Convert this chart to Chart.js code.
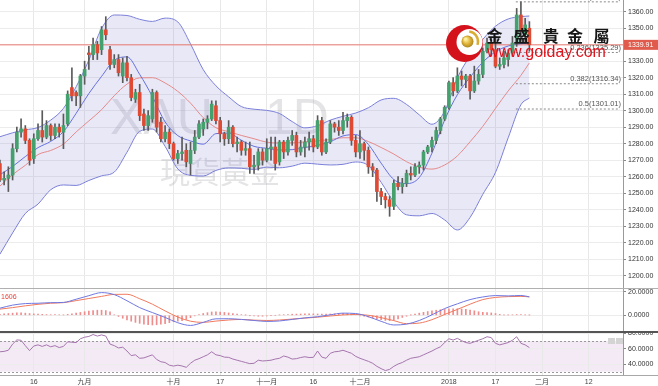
<!DOCTYPE html>
<html lang="zh-Hant">
<head>
<meta charset="utf-8">
<title>XAU 1D 現貨黃金</title>
<script src="https://cdn.jsdelivr.net/npm/chart.js@4.4.1/dist/chart.umd.min.js"></script>
<style>
html,body{margin:0;padding:0;background:#fff;overflow:hidden}
#wrap{position:relative;width:658px;height:386px;background:#fff}
#wrap canvas{position:absolute;left:0;display:block}
</style>
</head>
<body>
<div id="wrap">
  <canvas id="mainChart" width="658" height="288" style="top:0;width:658px;height:288px"></canvas>
  <canvas id="macdChart" width="658" height="43" style="top:288px;width:658px;height:43px"></canvas>
  <canvas id="rsiChart" width="658" height="55" style="top:331px;width:658px;height:55px"></canvas>
</div>
<script>
// ---------------- data ----------------
const categories = ['2017-08-04','2017-08-07','2017-08-08','2017-08-09','2017-08-10','2017-08-11','2017-08-14','2017-08-15','2017-08-16','2017-08-17','2017-08-18','2017-08-21','2017-08-22','2017-08-23','2017-08-24','2017-08-25','2017-08-28','2017-08-29','2017-08-30','2017-08-31','2017-09-01','2017-09-04','2017-09-05','2017-09-06','2017-09-07','2017-09-08','2017-09-11','2017-09-12','2017-09-13','2017-09-14','2017-09-15','2017-09-18','2017-09-19','2017-09-20','2017-09-21','2017-09-22','2017-09-25','2017-09-26','2017-09-27','2017-09-28','2017-09-29','2017-10-02','2017-10-03','2017-10-04','2017-10-05','2017-10-06','2017-10-09','2017-10-10','2017-10-11','2017-10-12','2017-10-13','2017-10-16','2017-10-17','2017-10-18','2017-10-19','2017-10-20','2017-10-23','2017-10-24','2017-10-25','2017-10-26','2017-10-27','2017-10-30','2017-10-31','2017-11-01','2017-11-02','2017-11-03','2017-11-06','2017-11-07','2017-11-08','2017-11-09','2017-11-10','2017-11-13','2017-11-14','2017-11-15','2017-11-16','2017-11-17','2017-11-20','2017-11-21','2017-11-22','2017-11-23','2017-11-24','2017-11-27','2017-11-28','2017-11-29','2017-11-30','2017-12-01','2017-12-04','2017-12-05','2017-12-06','2017-12-07','2017-12-08','2017-12-11','2017-12-12','2017-12-13','2017-12-14','2017-12-15','2017-12-18','2017-12-19','2017-12-20','2017-12-21','2017-12-22','2017-12-25','2017-12-26','2017-12-27','2017-12-28','2017-12-29','2018-01-02','2018-01-03','2018-01-04','2018-01-05','2018-01-08','2018-01-09','2018-01-10','2018-01-11','2018-01-12','2018-01-15','2018-01-16','2018-01-17','2018-01-18','2018-01-19','2018-01-22','2018-01-23','2018-01-24','2018-01-25','2018-01-26','2018-01-29'];

const openP = [1268,1258,1259,1261,1277,1287,1289,1282,1271,1283,
 1288,1284,1291,1285,1290,1287,1292,1314,1311,1309,
 1321,1335,1334,1340,1337,1349,1337,1328,1331,1321,
 1329,1320,1307,1311,1298,1291,1295,1311,1293,1283,
 1287,1280,1271,1274,1276,1268,1276,1284,1289,1293,
 1295,1303,1294,1286,1283,1290,1280,1281,1276,1277,
 1266,1267,1275,1270,1277,1278,1269,1281,1275,1282,
 1285,1275,1278,1281,1283,1278,1294,1275,1281,1292,
 1290,1288,1294,1296,1282,1275,1280,1276,1266,1264,
 1251,1248,1246,1242,1256,1254,1256,1262,1261,1266,
 1267,1275,1278,1282,1288,1295,1302,1317,1312,1321,
 1319,1321,1312,1318,1322,1336,1341,1337,1327,1328,
 1331,1335,1341,1358,1346,1350];
const highP = [1270,1263,1266,1280,1290,1295,1291,1283,1286,1292,
 1300,1294,1292,1292,1292,1298,1312,1326,1312,1322,
 1330,1339,1344,1342,1351,1357,1339,1334,1334,1332,
 1333,1322,1313,1316,1301,1300,1313,1312,1296,1291,
 1289,1281,1276,1284,1280,1281,1288,1294,1295,1297,
 1306,1306,1296,1287,1294,1291,1284,1282,1281,1281,
 1273,1277,1277,1283,1284,1284,1282,1282,1284,1288,
 1287,1282,1284,1287,1285,1297,1296,1283,1294,1293,
 1294,1299,1298,1297,1285,1288,1281,1278,1268,1265,
 1253,1250,1248,1258,1260,1259,1264,1266,1268,1269,
 1276,1279,1284,1290,1296,1303,1318,1320,1326,1324,
 1322,1322,1327,1325,1338,1344,1344,1345,1332,1336,
 1337,1345,1362,1366,1356,1354];
const lowP = [1257,1255,1251,1258,1275,1284,1280,1267,1268,1282,
 1281,1283,1282,1283,1284,1277,1291,1306,1303,1302,
 1316,1325,1331,1331,1334,1343,1325,1326,1321,1317,
 1318,1306,1305,1294,1288,1288,1293,1287,1281,1281,
 1277,1270,1268,1270,1266,1261,1274,1283,1285,1289,
 1294,1292,1281,1279,1280,1278,1275,1273,1273,1262,
 1262,1264,1267,1269,1270,1264,1267,1271,1273,1279,
 1272,1273,1272,1276,1275,1277,1273,1274,1280,1287,
 1285,1286,1290,1279,1272,1271,1270,1262,1260,1245,
 1243,1241,1236,1240,1252,1250,1254,1258,1260,1262,
 1264,1274,1275,1280,1286,1294,1301,1309,1311,1315,
 1314,1307,1311,1316,1320,1335,1333,1326,1325,1326,
 1327,1333,1339,1342,1341,1336];
const closeP = [1258,1259,1261,1277,1287,1289,1282,1270,1283,1288,
 1284,1291,1285,1290,1287,1291,1310,1309,1309,1321,
 1325,1334,1340,1335,1349,1346,1328,1331,1323,1329,
 1320,1308,1311,1297,1291,1297,1311,1290,1283,1287,
 1280,1271,1274,1275,1269,1276,1284,1292,1293,1295,
 1304,1294,1286,1283,1290,1280,1281,1276,1277,1266,
 1267,1275,1270,1277,1278,1268,1281,1275,1282,1285,
 1275,1278,1281,1283,1278,1294,1275,1281,1292,1290,
 1288,1294,1296,1282,1275,1280,1276,1266,1264,1251,
 1248,1246,1242,1256,1254,1256,1262,1261,1266,1267,
 1275,1278,1282,1288,1295,1302,1317,1312,1321,1319,
 1321,1312,1318,1322,1336,1341,1337,1327,1328,1332,
 1335,1341,1358,1348,1352,1340];

// indicator lines read at every third candle (index into categories)
const sampleIdx = [0,3,6,9,12,15,18,21,24,27,30,33,36,39,42,45,48,51,54,57,60,63,66,69,72,75,78,81,84,87,90,93,96,99,102,105,108,111,114,117,120,123,125];
const bbUpper = [1284.2,1286.6,1288.4,1289.8,1294.3,1301.4,1314.5,1330.7,1349.8,1358.0,1357.7,1355.4,1354.1,1356.1,1353.8,1340.5,1324.9,1315.1,1308.4,1302.5,1300.9,1300.2,1298.3,1293.4,1289.6,1290.9,1294.3,1296.6,1298.6,1301.8,1306.5,1307.5,1303.8,1297.5,1291.8,1299.7,1319.9,1333.2,1343.2,1351.2,1355.6,1357.0,1357.4];
const bbLower = [1213.0,1225.9,1237.7,1243.4,1252.1,1255.0,1254.7,1257.7,1260.5,1262.8,1274.8,1287.5,1288.9,1278.4,1264.7,1260.8,1260.4,1263.8,1265.3,1265.1,1264.4,1265.8,1265.4,1266.4,1268.2,1267.6,1267.1,1267.5,1268.9,1266.7,1256.6,1244.6,1236.9,1236.3,1237.7,1233.8,1227.7,1235.3,1249.3,1262.6,1283.6,1303.6,1307.7];
const ma10 = [1261.2,1266.2,1272.2,1277.6,1281.4,1287.3,1298.4,1310.4,1320.8,1330.5,1332.6,1322.0,1308.6,1293.2,1284.9,1281.7,1279.7,1286.1,1286.4,1282.1,1278.4,1277.2,1276.2,1276.4,1277.7,1279.0,1281.2,1284.7,1285.5,1279.5,1268.2,1258.3,1255.8,1259.5,1274.3,1294.4,1309.7,1320.3,1329.4,1335.7,1339.2,1340.6,1341.0];
const ma20 = [1254.3,1261.3,1266.9,1273.4,1275.9,1279.8,1287.1,1293.8,1300.6,1309.1,1316.1,1319.9,1320.0,1316.8,1311.7,1304.6,1295.8,1289.7,1287.3,1285.0,1283.0,1280.9,1280.4,1280.5,1281.1,1281.7,1282.5,1283.6,1283.6,1281.3,1277.7,1273.7,1269.1,1265.8,1264.6,1267.1,1272.6,1281.2,1290.5,1301.4,1312.0,1321.4,1329.0];
const macdLine = [6.0,8.6,9.9,10.2,10.7,10.9,13.6,16.6,19.2,17.5,12.3,6.5,2.3,-1.8,-6.3,-8.6,-6.0,-3.0,-2.9,-3.5,-4.4,-5.2,-4.8,-3.5,-2.2,-1.2,0.4,1.8,1.5,-1.2,-5.1,-8.2,-7.5,-4.4,0.4,5.7,9.7,13.3,15.5,16.7,16.4,16.8,15.6];
const signalLine = [5.2,6.5,8.0,9.3,10.2,10.7,12.4,14.2,16.0,17.7,17.8,14.0,9.4,3.7,-1.5,-5.0,-6.0,-4.9,-4.0,-3.5,-4.1,-4.4,-4.0,-3.2,-2.4,-1.6,-0.6,0.3,0.7,0.0,-2.0,-4.5,-7.1,-6.6,-3.7,0.7,5.0,9.4,13.3,15.1,15.8,16.0,15.6];
// per-candle indicators
const macdHist = [0.8,1.2,1.5,1.8,2,2,1.8,1.5,1.2,1,0.8,0.6,0.5,
 0.5,0.4,0.3,
 0.8,1.3,1.8,2.4,3,3.5,4,4.3,4.3,4,3,
 0.4,-1,-2.5,-4,-5,-6,-6.8,-7.5,-8,-8.2,-8,-7.5,-7,-6.2,-5.5,-5,-4.5,-3.5,-2,
 -0.5,0.5,1.5,2.2,2.8,3,2.8,2.4,2,1.5,1,
 0.5,0.2,-0.3,-0.6,-0.8,-0.8,-0.6,-0.3,0,0.3,0.5,0.7,0.9,1,1.1,1.2,1.2,1.2,1.1,1,1,1.1,1.2,
 1.5,1.7,1.5,1,0.5,-0.5,
 -0.8,-1.5,-2.2,-3,-3.8,-4.4,-4.6,-4.2,-3,-1.8,-0.8,0.2,
 1,1.8,2.5,3.2,3.8,4.3,4.7,5,5.4,5.5,5.5,5.3,5,4.5,3.8,3,2.5,2.2,2,1.5,
 0.8,0.4,0.3,0.4,0.6,0.5,0.3,0.2];
const rsi = [56,56.5,58,66,71.5,71,64,57.5,63.5,65,
 63,65,62.5,64,61.5,63,69,68.5,68,73,
 75,76,78.5,76.5,78,76.5,66,64,61,62,
 57,51,52,47.5,48,50,52,46,43,42,
 38.5,37.4,38.5,37.5,35.7,41,45,47,49.5,52,
 56,52,51,49,48.7,46.5,45,43.5,42,40.5,
 41,45,44,44.4,45,46.5,47.5,50.5,49,46.5,
 47,48.5,49.5,48.5,48.7,57,49,47.5,54,56,
 56.5,58,56,54,50,47.5,45.5,43.5,41,37,
 34,31.5,33,37,40,42,45,47.5,48.5,49.5,
 52,54.5,57,60,62.5,68,73,71.3,73.5,70.5,
 68,67,69,71,73,75.6,74.5,67,65,66.5,
 68,71,75.6,67,65,61.5];

const lastPrice = 1339.91;
const fibLevels = ['0','0.236','0.382','0.5'];
const fibPrices = [1365.97,1335.29,1316.34,1301.01];
const fibRange = [121.8,146.4];
const rsiBands = [30,70];

// axis ticks
const xTickLabels = ['16','九月','十月','17','十一月','16','十二月','2018','17','二月','12'];
const xTickPositions = [8,20,41,52,63,74,85,106,117,128,139];
const priceTicks = [1200,1210,1220,1230,1240,1250,1260,1270,1280,1290,1300,1310,1320,1330,1340,1350,1360];
const macdTicks = [0,20];
const rsiTicks = [40,60,80];

const watermarkSymbol = 'XAU';
const watermarkPeriod = '1D';
const watermarkName = '現貨黃金';
const logoName = ['金','盛','貴','金','屬'];
const logoUrl = 'www.golday.com';
const macdTag = '1606';

// ---------------- layout / styles ----------------
const W = 658, AXIS_W = 35;
const X_MIN = 0.024, X_MAX = 147.1;
const LATIN = '"Liberation Sans", Arial, sans-serif';
const CJK = '"Noto Sans CJK TC", "Noto Sans CJK SC", sans-serif';
Chart.defaults.font.family = '"Liberation Sans", "Noto Sans CJK TC", sans-serif';
Chart.defaults.color = '#333';

function xScaleCfg(showLabels){
  return {
    type:'linear', min:X_MIN, max:X_MAX, offset:false,
    afterBuildTicks(s){ s.ticks = xTickPositions.map(v=>({value:v})); },
    ticks:{display:showLabels, autoSkip:false, maxRotation:0, minRotation:0, padding:3,
      color:'#444', font:{size:7}, callback:(v,i)=>xTickLabels[i]},
    grid:{color:'#e8e8e8', drawTicks:false, offset:false},
    border:{display:false},
    afterFit(s){ s.height = showLabels ? 11 : 0; s.paddingLeft = 0; s.paddingRight = 0; }
  };
}
function yScaleCfg(min,max,tickVals,decimals){
  return {
    type:'linear', position:'right', min, max,
    afterBuildTicks(s){ s.ticks = tickVals.map(v=>({value:v})); },
    ticks:{color:'#333', font:{size:7}, padding:2, callback:v=>Number(v).toFixed(decimals)},
    grid:{color:'#ececec', tickLength:3, tickColor:'#888'},
    border:{display:true, color:'#9a9a9a'},
    afterFit(s){ s.width = AXIS_W; s.paddingTop = 0; s.paddingBottom = 0; }
  };
}
const baseOpts = {
  responsive:false, animation:false, devicePixelRatio:1, events:[],
  layout:{padding:0},
  plugins:{legend:{display:false}, tooltip:{enabled:false}}
};
const sampled = arr => sampleIdx.map((k,j)=>({x:k, y:arr[j]}));
const lineDs = (label, arr, color, order, extra) => Object.assign({
  type:'line', label, data:sampled(arr), borderColor:color, borderWidth:1,
  pointRadius:0, cubicInterpolationMode:'monotone', fill:false, order
}, extra||{});

const UP = '#44a06c', DOWN = '#de4a33';
const isUp = k => closeP[k] >= openP[k];

function drawLogo(ctx){
  ctx.save();
  ctx.fillStyle = '#d3121c';
  ctx.beginPath(); ctx.arc(464.5,43.5,18.5,0,Math.PI*2); ctx.fill();
  ctx.fillStyle = '#ffffff';
  ctx.beginPath(); ctx.arc(469.5,42,13,0,Math.PI*2); ctx.fill();
  const g = ctx.createRadialGradient(465.5,39,1,467.5,41.5,6.5);
  g.addColorStop(0,'#fff1a0'); g.addColorStop(0.5,'#e0b43a'); g.addColorStop(1,'#a8801a');
  ctx.fillStyle = g;
  ctx.beginPath(); ctx.arc(467.5,41.5,6,0,Math.PI*2); ctx.fill();
  ctx.strokeStyle = '#d9ad35'; ctx.lineWidth = 2.5;
  ctx.beginPath(); ctx.arc(468,41.5,10,-1.45,0.35); ctx.stroke();
  ctx.fillStyle = '#161616';
  ctx.font = 'bold 16px ' + CJK; ctx.textAlign = 'center'; ctx.textBaseline = 'middle';
  const xs = [494.5,521.5,551,575,601.5];
  logoName.forEach((ch,i)=>ctx.fillText(ch, xs[i], 36));
  ctx.fillStyle = '#e3121b';
  ctx.font = '16px ' + LATIN; ctx.textAlign = 'left'; ctx.textBaseline = 'alphabetic';
  ctx.fillText(logoUrl, 487, 57);
  ctx.restore();
}

const mainDecor = {
  id:'mainDecor',
  beforeDatasetsDraw(chart){
    const {ctx, chartArea:a} = chart;
    ctx.save();
    ctx.beginPath(); ctx.rect(a.left,a.top,a.right-a.left,a.bottom-a.top); ctx.clip();
    ctx.fillStyle = 'rgba(150,150,160,0.26)';
    ctx.textAlign = 'left'; ctx.textBaseline = 'alphabetic';
    ctx.font = '50px ' + LATIN;
    ctx.fillText(watermarkSymbol, 110, 134);
    ctx.fillText(watermarkPeriod, 265, 134);
    ctx.font = '30px ' + CJK;
    ctx.fillText(watermarkName, 160, 183);
    ctx.restore();
  },
  afterDraw(chart){
    const {ctx, chartArea:a, scales:{x,y}} = chart;
    ctx.save();
    ctx.font = '7.5px ' + LATIN; ctx.fillStyle = '#555';
    ctx.textAlign = 'right'; ctx.textBaseline = 'bottom';
    fibPrices.forEach((p,j)=>{
      ctx.fillText(fibLevels[j] + '(' + p.toFixed(2) + ')', x.getPixelForValue(fibRange[1]) + 1, y.getPixelForValue(p) - 1);
    });
    drawLogo(ctx);
    const py = y.getPixelForValue(lastPrice);
    ctx.fillStyle = '#e05b4c';
    ctx.fillRect(a.right + 1, py - 5, W - a.right - 1, 10);
    ctx.fillStyle = '#fff'; ctx.font = '7px ' + LATIN;
    ctx.textAlign = 'left'; ctx.textBaseline = 'middle';
    ctx.fillText(lastPrice.toFixed(2), a.right + 5, py);
    ctx.restore();
  }
};

new Chart(document.getElementById('mainChart'), {
  type:'line',
  data:{ datasets:[
    lineDs('BB upper', bbUpper, '#7b80d8', 6, {fill:'+1', backgroundColor:'rgba(118,118,206,0.17)'}),
    lineDs('BB lower', bbLower, '#7b80d8', 6),
    lineDs('MA10', ma10, '#6670dc', 5),
    lineDs('MA20', ma20, '#e58a8a', 5),
    {type:'line', label:'last price', data:[{x:X_MIN,y:lastPrice},{x:X_MAX,y:lastPrice}],
      borderColor:'#ec7a72', borderWidth:1, pointRadius:0, fill:false, order:5.5},
    ...fibPrices.map((p,j)=>({type:'line', label:'fib '+fibLevels[j],
      data:[{x:fibRange[0],y:p},{x:fibRange[1],y:p}], borderColor:'#8a8a8a', borderDash:[2,2],
      borderWidth:1, pointRadius:0, fill:false, order:4})),
    {type:'bar', label:'wick', data:categories.map((d,k)=>({x:k, y:[lowP[k], highP[k]]})),
      backgroundColor:'#5a5a5a', barThickness:1, grouped:false, order:3},
    {type:'bar', label:'body', data:categories.map((d,k)=>({x:k, y:[openP[k], closeP[k]]})),
      backgroundColor:categories.map((d,k)=>isUp(k)?UP:DOWN), borderWidth:0,
      barThickness:3, grouped:false, order:2}
  ]},
  options:Object.assign({}, baseOpts, {
    scales:{ x:xScaleCfg(false), y:yScaleCfg(1192.54, 1367.09, priceTicks, 2) }
  }),
  plugins:[mainDecor]
});

const macdDecor = {
  id:'macdDecor',
  afterDraw(chart){
    const ctx = chart.ctx;
    ctx.save();
    ctx.fillStyle = '#b0b0b0'; ctx.fillRect(0,0,W,1);
    ctx.fillStyle = '#e8413a'; ctx.font = '7px ' + LATIN;
    ctx.textAlign = 'left'; ctx.textBaseline = 'middle';
    ctx.fillText(macdTag, 1, 9.5);
    ctx.restore();
  }
};
new Chart(document.getElementById('macdChart'), {
  type:'line',
  data:{ datasets:[
    {type:'bar', label:'hist', data:categories.map((d,k)=>({x:k, y:macdHist[k]})),
      backgroundColor:'#ef8c8c', barThickness:1, grouped:false, order:3},
    lineDs('MACD', macdLine, '#6f78e0', 1),
    lineDs('Signal', signalLine, '#f07a5e', 2)
  ]},
  options:Object.assign({}, baseOpts, {
    scales:{ x:xScaleCfg(false), y:yScaleCfg(-13.3, 23.1, macdTicks, 4) }
  }),
  plugins:[macdDecor]
});

const rsiDecor = {
  id:'rsiDecor',
  beforeDraw(chart){
    const {ctx, chartArea:a, scales:{y}} = chart;
    const yHi = y.getPixelForValue(rsiBands[1]), yLo = y.getPixelForValue(rsiBands[0]);
    ctx.save(); ctx.fillStyle = '#f3eaf5';
    ctx.fillRect(a.left, yHi, a.right - a.left, yLo - yHi); ctx.restore();
  },
  beforeDatasetsDraw(chart){
    const {ctx, chartArea:a, scales:{y}} = chart;
    ctx.save(); ctx.strokeStyle = '#9a9a9a'; ctx.lineWidth = 1; ctx.setLineDash([2,2]);
    rsiBands.forEach(v=>{
      const py = Math.round(y.getPixelForValue(v)) + 0.5;
      ctx.beginPath(); ctx.moveTo(a.left, py); ctx.lineTo(a.right, py); ctx.stroke();
    });
    ctx.restore();
  },
  afterDraw(chart){
    const {ctx, chartArea:a} = chart;
    ctx.save();
    ctx.fillStyle = '#555'; ctx.fillRect(0,0,W,2);
    ctx.fillStyle = '#a8a8a8'; ctx.fillRect(0, a.bottom, W, 1);
    ctx.fillStyle = '#d4d4d4';
    ctx.fillRect(608, 7, 7, 6); ctx.fillRect(616, 7, 7, 6);
    ctx.restore();
  }
};
new Chart(document.getElementById('rsiChart'), {
  type:'line',
  data:{ datasets:[
    {type:'line', label:'RSI', data:categories.map((d,k)=>({x:k, y:rsi[k]})),
      borderColor:'#a676ae', borderWidth:1, pointRadius:0, tension:0, fill:false}
  ]},
  options:Object.assign({}, baseOpts, {
    scales:{ x:xScaleCfg(true), y:yScaleCfg(25.7, 83.1, rsiTicks, 4) }
  }),
  plugins:[rsiDecor]
});
</script>
</body>
</html>
